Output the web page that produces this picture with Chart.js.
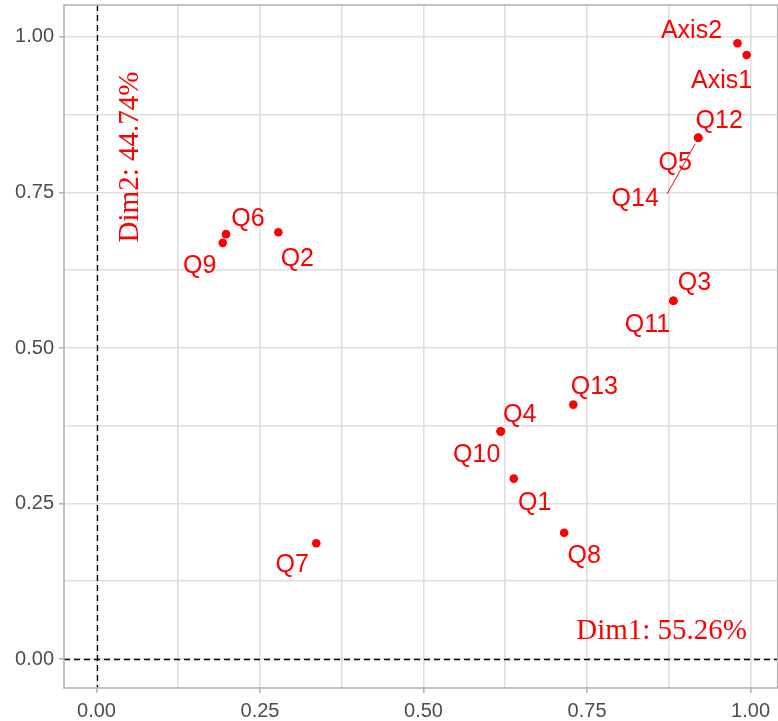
<!DOCTYPE html>
<html>
<head>
<meta charset="utf-8">
<script src="https://cdn.jsdelivr.net/npm/chart.js@4/dist/chart.umd.min.js"></script>
<style>
  html, body { margin: 0; padding: 0; background: #fff; overflow: hidden; }
  #wrap { width: 782px; height: 721px; }
</style>
</head>
<body>
<div id="wrap"><canvas id="corplot" width="782" height="721"></canvas></div>
<script>
// variable coordinates on the first two dimensions
const names = ['Q1', 'Q2', 'Q3', 'Q4', 'Q5', 'Q6', 'Q7', 'Q8', 'Q9', 'Q10', 'Q11', 'Q12', 'Q13', 'Q14', 'Axis1', 'Axis2'];
const dim1 = [0.638, 0.278, 0.882, 0.618, 0.920, 0.198, 0.336, 0.715, 0.193, 0.618, 0.882, 0.920, 0.729, 0.920, 0.994, 0.980];
const dim2 = [0.290, 0.686, 0.576, 0.366, 0.838, 0.683, 0.186, 0.203, 0.669, 0.366, 0.576, 0.838, 0.409, 0.838, 0.971, 0.990];
const tickStep = 0.125;   // major every 0.25, minor in between
const dim1Title = 'Dim1: 55.26%';
const dim2Title = 'Dim2: 44.74%';

// label nudges in pixels (text centre relative to point), like ggrepel put them
const nudge = {
  Q1: [21, 23], Q2: [19, 25], Q3: [21, -19], Q4: [19, -18], Q5: [-23, 24],
  Q6: [22, -17], Q7: [-24, 20], Q8: [20, 22], Q9: [-23, 22], Q10: [-24, 22],
  Q11: [-26, 23], Q12: [21, -18], Q13: [21, -19], Q14: [-63, 60],
  Axis1: [-25, 24], Axis2: [-46, -14]
};

const RED = '#ff0000';
const isMajor = v => Math.abs(v / 0.25 - Math.round(v / 0.25)) < 1e-6;

const extras = {
  id: 'extras',
  beforeDatasetsDraw(chart) {
    const { ctx, chartArea: a, scales: { x, y } } = chart;
    ctx.save();
    ctx.strokeStyle = '#000';
    ctx.lineWidth = 1.3;
    ctx.setLineDash([6, 4]);
    const x0 = Math.round(x.getPixelForValue(0)) + 0.5;
    const y0 = Math.round(y.getPixelForValue(0)) + 0.5;
    ctx.beginPath();
    ctx.moveTo(x0, a.top); ctx.lineTo(x0, a.bottom);
    ctx.moveTo(a.left, y0); ctx.lineTo(a.right, y0);
    ctx.stroke();
    ctx.restore();
  },
  afterDatasetsDraw(chart) {
    const { ctx, scales: { x, y } } = chart;
    ctx.save();
    ctx.fillStyle = RED;
    ctx.strokeStyle = RED;

    // segment for the repelled Q14 label
    const i14 = names.indexOf('Q14');
    const px = x.getPixelForValue(dim1[i14]);
    const py = y.getPixelForValue(dim2[i14]);
    ctx.lineWidth = 1;
    ctx.beginPath();
    ctx.moveTo(px - 3, py + 6);
    ctx.lineTo(px - 31, py + 56);
    ctx.stroke();

    ctx.font = '25px "Liberation Sans", Arial, sans-serif';
    ctx.textAlign = 'center';
    ctx.textBaseline = 'alphabetic';
    names.forEach((n, i) => {
      const cx = x.getPixelForValue(dim1[i]) + nudge[n][0];
      const cy = y.getPixelForValue(dim2[i]) + nudge[n][1];
      ctx.fillText(n, cx, cy + 8.5);
    });

    // dimension titles
    ctx.font = '29px "Liberation Serif", "Times New Roman", serif';
    ctx.fillText(dim1Title, x.getPixelForValue(0.864), y.getPixelForValue(0.048) + 9.6);
    ctx.translate(x.getPixelForValue(0.048), y.getPixelForValue(0.807));
    ctx.rotate(-Math.PI / 2);
    ctx.fillText(dim2Title, 0, 9.6);
    ctx.restore();
  },
  afterDraw(chart) {
    const { ctx, chartArea: a } = chart;
    ctx.save();
    ctx.strokeStyle = '#b3b3b3';
    ctx.lineWidth = 1.6;
    ctx.strokeRect(a.left, a.top, a.right - a.left, a.bottom - a.top);
    ctx.restore();
  }
};

Chart.defaults.font.family = '"Liberation Sans", Arial, sans-serif';

const gridOpts = {
  color: '#dedede',
  lineWidth: 1.6,
  tickLength: 5,
  tickWidth: 1.6,
  tickColor: c => (c.tick && isMajor(c.tick.value)) ? '#b3b3b3' : 'rgba(0,0,0,0)'
};
const tickOpts = {
  stepSize: tickStep,
  includeBounds: false,
  autoSkip: false,
  maxRotation: 0,
  color: '#4d4d4d',
  font: { size: 20 },
  callback: v => isMajor(v) ? v.toFixed(2) : ''
};

new Chart(document.getElementById('corplot'), {
  type: 'scatter',
  data: {
    datasets: [{
      data: dim1.map((v, i) => ({ x: v, y: dim2[i] })),
      backgroundColor: RED,
      borderWidth: 0,
      pointRadius: 4.3,
      pointHoverRadius: 4.3
    }]
  },
  options: {
    responsive: false,
    devicePixelRatio: 1,
    animation: false,
    layout: { padding: { top: 5, left: 0, right: 0, bottom: 0 } },
    plugins: { legend: { display: false }, tooltip: { enabled: false } },
    scales: {
      x: {
        type: 'linear',
        min: -0.0497,
        max: 1.0415,
        grid: gridOpts,
        border: { display: false },
        ticks: Object.assign({}, tickOpts, { padding: 6 }),
        afterFit: s => { s.height = 33; s.paddingLeft = 0; s.paddingRight = 0; }
      },
      y: {
        type: 'linear',
        min: -0.0466,
        max: 1.0514,
        grid: gridOpts,
        border: { display: false },
        ticks: Object.assign({}, tickOpts, { padding: 5 }),
        afterFit: s => { s.width = 64; s.paddingTop = 0; s.paddingBottom = 0; }
      }
    }
  },
  plugins: [extras]
});
</script>
</body>
</html>
